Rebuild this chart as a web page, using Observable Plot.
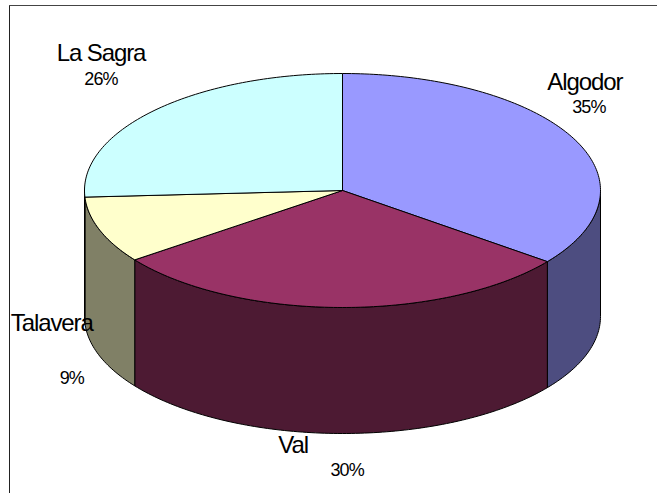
<!DOCTYPE html>
<html>
<head>
<meta charset="utf-8">
<style>html,body{margin:0;padding:0;background:#fff;overflow:hidden}svg{display:block}</style>
<script src="https://cdn.jsdelivr.net/npm/d3@7"></script>
<script src="https://cdn.jsdelivr.net/npm/@observablehq/plot@0.6"></script>
</head>
<body>
<script>
const names = ["Algodor", "Val", "Talavera", "La Sagra"];
const shares = [35.4, 29.5, 9.2, 25.9];
const topColors = ["#9999FF", "#993366", "#FFFFCC", "#CCFFFF"];
const sideColors = ["#4D4D80", "#4D1A33", "#808066", "#668080"];

// label offsets from each slice's rim mid-point, in pixels
const nameDx = [11, -47, -48, -54];
const nameDy = [-56, 138, 93, -57];
const pctDx = [15, 7, -28, -54];
const pctDy = [-31, 163, 148, -31];

const depth = 1.077; // thickness, in ellipse radii
const total = d3.sum(shares);
const ends = d3.cumsum(shares).map(v => v / total * 360);
const starts = [0, ...ends.slice(0, -1)];
const rad = d => d * Math.PI / 180;
const rim = (deg, drop = 0) => ({x: Math.sin(rad(deg)), y: Math.cos(rad(deg)) - drop});
const arc = (a, b, drop = 0) => {
  const n = Math.max(2, Math.ceil(Math.abs(b - a)));
  return d3.range(n + 1).map(i => rim(a + (b - a) * i / n, drop));
};
const style = {x: "x", y: "y", stroke: "#000", strokeWidth: 1, curve: "linear"};

const marks = [];
// side walls: only the part of each slice on the front half
names.forEach((_, i) => {
  const a = Math.max(starts[i], 90), b = Math.min(ends[i], 270);
  if (b <= a) return;
  const top = arc(a, b), low = arc(b, a, depth);
  marks.push(Plot.line([...top, ...low, top[0]], {...style, fill: sideColors[i]}));
});
// top faces
names.forEach((_, i) => {
  const pts = [{x: 0, y: 0}, ...arc(starts[i], ends[i]), {x: 0, y: 0}];
  marks.push(Plot.line(pts, {...style, fill: topColors[i]}));
});
// labels
names.forEach((name, i) => {
  const p = rim((starts[i] + ends[i]) / 2);
  const base = {x: "x", y: "y", fill: "#000", fontFamily: "Liberation Sans, Arial, sans-serif"};
  marks.push(Plot.text([{...p, t: name}], {...base, text: "t", dx: nameDx[i], dy: nameDy[i], fontSize: 24}));
  marks.push(Plot.text([{...p, t: Math.round(shares[i]) + "%"}], {...base, text: "t", dx: pctDx[i], dy: pctDy[i], fontSize: 18}));
});
marks.push(Plot.frame({anchor: "left", stroke: "#222"}));
marks.push(Plot.frame({anchor: "top", stroke: "#444"}));

const chart = Plot.plot({
  width: 657,
  height: 493,
  marginLeft: 9,
  marginTop: 5,
  marginRight: 0,
  marginBottom: 0,
  x: {domain: [-1, 1], range: [84, 600], axis: null},
  y: {domain: [-1, 1], range: [307, 73], axis: null},
  style: {background: "#fff", overflow: "visible"},
  marks
});
chart.querySelectorAll("text").forEach(t => {
  const big = t.getAttribute("font-size") === "24" || t.closest("g")?.getAttribute("font-size") === "24";
  t.style.letterSpacing = big ? "-1.1px" : "-0.9px";
});
document.body.appendChild(chart);
</script>
</body>
</html>
